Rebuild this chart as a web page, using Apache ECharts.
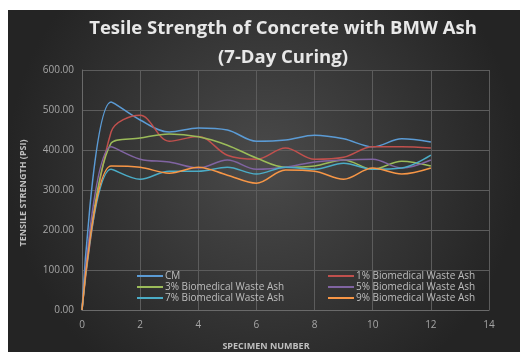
<!DOCTYPE html>
<html><head><meta charset="utf-8">
<script src="https://cdn.jsdelivr.net/npm/echarts@6/dist/echarts.min.js"></script>
<style>html,body{margin:0;padding:0;background:#fff}#c{width:520px;height:352px}</style>
</head><body><div id="c"></div>
<script>
const specimens = [0,1,2,3,4,5,6,7,8,9,10,11,12];
const seriesNames = ['CM','1% Biomedical Waste Ash','3% Biomedical Waste Ash','5% Biomedical Waste Ash','7% Biomedical Waste Ash','9% Biomedical Waste Ash'];
const cm   = [0,520,475,445,455,450,422,425,437,428,408,428,420];
const ash1 = [0,445,487,422,434,387,377,405,377,382,408,408,405];
const ash3 = [0,417,430,440,433,412,380,357,360,375,352,372,360];
const ash5 = [0,408,377,370,355,375,352,357,370,375,377,355,375];
const ash7 = [0,352,327,347,347,357,340,357,352,367,352,355,387];
const ash9 = [0,360,357,342,357,337,317,350,347,327,355,340,355];
const colors = ['#5b9bd5','#c0504d','#9bbb59','#8064a2','#4bacc6','#f79646'];

const allData = [cm,ash1,ash3,ash5,ash7,ash9];
const chart = echarts.init(document.getElementById('c'));
const font = "'Open Sans', 'Liberation Sans', sans-serif";
const legendBase = {orient:'vertical', top:266, itemGap:1, itemWidth:26, itemHeight:2, icon:'rect',
  textStyle:{color:'#bfbfbf', fontSize:10, fontFamily:font, padding:[0,0,0,-3]}};
chart.setOption({
  animation:false,
  backgroundColor:'#fff',
  graphic:[
    {type:'rect', z:-10, silent:true, shape:{x:8,y:10,width:512,height:342},
     style:{fill:new echarts.graphic.RadialGradient(0.5,0.45,0.75,[{offset:0,color:'#4a4a4a'},{offset:1,color:'#242424'}])}},
    {type:'text', x:266, y:346, style:{text:'SPECIMEN NUMBER', fill:'#bfbfbf', font:'bold 9px '+font, align:'center', verticalAlign:'middle'}},
    {type:'text', x:23, y:193, rotation:Math.PI/2, style:{text:'TENSILE STRENGTH (PSI)', fill:'#bfbfbf', font:'bold 9px '+font, align:'center', verticalAlign:'middle'}}
  ],
  title:{text:'Tesile Strength of Concrete with BMW Ash\n(7-Day Curing)', left:278, textAlign:'center', top:9,
    textStyle:{color:'#e8e8e8', fontSize:18.5, fontWeight:'bold', fontFamily:font, lineHeight:29}},
  grid:{left:82, right:31, top:70, bottom:42},
  legend:[
    Object.assign({data:[seriesNames[0],seriesNames[2],seriesNames[4]], left:132}, legendBase),
    Object.assign({data:[seriesNames[1],seriesNames[3],seriesNames[5]], left:323}, legendBase)
  ],
  xAxis:{type:'value', min:0, max:14, interval:2,
    axisLine:{show:true, lineStyle:{color:'#6a6a6a'}}, axisTick:{show:false},
    axisLabel:{color:'#a6a6a6', fontSize:10, fontFamily:font, margin:10},
    splitLine:{show:true, lineStyle:{color:'#5c5c5c'}}},
  yAxis:{type:'value', min:0, max:600, interval:100,
    axisLine:{show:true, lineStyle:{color:'#6a6a6a'}}, axisTick:{show:false},
    axisLabel:{color:'#a6a6a6', fontSize:10, fontFamily:font, margin:8, formatter:v=>v.toFixed(2)},
    splitLine:{show:true, lineStyle:{color:'#5c5c5c'}}},
  series: seriesNames.map((n,i)=>({
    name:n, type:'line', smooth:0.35, showSymbol:false, symbol:'none',
    data: specimens.map((x,j)=>[x, allData[i][j]]),
    lineStyle:{color:colors[i], width:1.5}, itemStyle:{color:colors[i]}
  }))
});
</script></body></html>
